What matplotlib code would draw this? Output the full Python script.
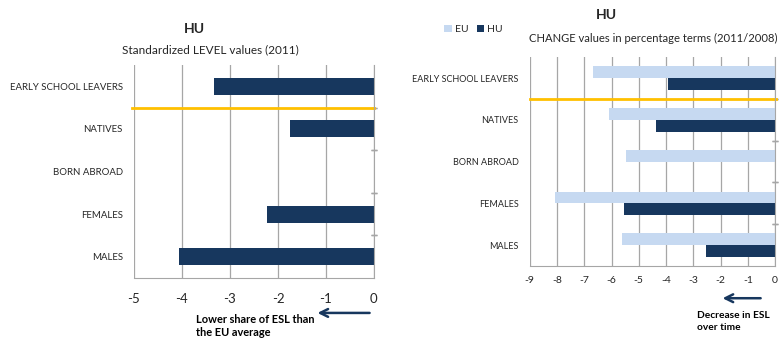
import matplotlib.pyplot as plt
import numpy as np

plt.rcParams['font.family'] = ['Lato', 'DejaVu Sans']

categories = ['EARLY SCHOOL LEAVERS', 'NATIVES', 'BORN ABROAD', 'FEMALES', 'MALES']

# left panel: standardized level values (2011), HU only
level_hu = [-3.34, -1.75, np.nan, -2.23, -4.06]

# right panel: change in percentage terms (2011/2008)
change_eu = [-6.67, -6.09, -5.47, -8.09, -5.61]
change_hu = [-3.92, -4.37, np.nan, -5.55, -2.53]

dark = '#17375E'
light = '#C6D9F1'
yellow = '#FFC000'
grid_col = '#A6A6A6'
txt = '#262626'

fig = plt.figure(figsize=(7.79, 3.42), dpi=100)

y = np.arange(len(categories))


def style_axes(ax, xmin, ticks, lab_size):
    ax.set_xlim(xmin, 0)
    ax.set_ylim(len(categories) - 0.5, -0.5)
    ax.set_xticks(ticks)
    ax.set_xticklabels([str(t) for t in ticks], color=txt)
    ax.set_yticks(y)
    ax.set_yticklabels(categories, fontsize=lab_size, color=txt)
    ax.tick_params(axis='y', length=0, pad=8)
    ax.grid(axis='x', color=grid_col, lw=0.9)
    ax.set_axisbelow(True)
    for s in ['top', 'left']:
        ax.spines[s].set_visible(False)
    ax.spines['bottom'].set_color(grid_col)
    ax.spines['right'].set_color(grid_col)
    # small category ticks on the zero axis
    for b in np.arange(0.5, len(categories) - 0.5, 1.0):
        ax.plot([0, 0], [b, b], marker='_', ms=4, color=grid_col, clip_on=False)


# ---- left chart ----
ax1 = fig.add_axes([0.172, 0.187, 0.308, 0.623])
ax1.barh(y, level_hu, height=0.4, color=dark)
style_axes(ax1, -5, list(range(-5, 1)), 6.9)
ax1.tick_params(axis='x', length=0, pad=11, labelsize=9.5)
ax1.plot([-5.05, 0], [0.5, 0.5], color=yellow, lw=2, clip_on=False)
fig.text(0.25, 0.915, 'HU', fontsize=10, fontweight='bold', ha='center', va='center', color=txt)
fig.text(0.27, 0.853, 'Standardized LEVEL values (2011)', fontsize=8.5, ha='center', va='center', color=txt)
ax1.annotate('', xy=(0.404, 0.085), xytext=(0.478, 0.085), xycoords='figure fraction',
             arrowprops=dict(arrowstyle='->', color=dark, lw=1.8, mutation_scale=14))
fig.text(0.252, 0.047, 'Lower share of ESL than\nthe EU average', fontsize=7.9, fontweight='bold',
         ha='left', va='center', color='black', linespacing=1.3)

# ---- right chart ----
ax2 = fig.add_axes([0.680, 0.222, 0.315, 0.611])
bh = 0.28
ax2.barh(y - bh / 2, change_eu, height=bh, color=light, label='EU')
ax2.barh(y + bh / 2, change_hu, height=bh, color=dark, label='HU')
style_axes(ax2, -9, list(range(-9, 1)), 6.5)
ax2.tick_params(axis='x', length=0, labelsize=7.5, pad=7)
ax2.plot([-9, 0.05], [0.5, 0.5], color=yellow, lw=2, clip_on=False)
fig.text(0.778, 0.955, 'HU', fontsize=10, fontweight='bold', ha='center', va='center', color=txt)
fig.text(0.838, 0.888, 'CHANGE values in percentage terms (2011/2008)', fontsize=8.1,
         ha='center', va='center', color=txt)
ax2.legend(loc='center', bbox_to_anchor=(0.608, 0.913), bbox_transform=fig.transFigure,
           ncol=2, frameon=False, fontsize=7.5, handlelength=0.7, handleheight=0.7,
           handletextpad=0.3, columnspacing=0.8, labelcolor=txt)
ax2.annotate('', xy=(0.924, 0.128), xytext=(0.98, 0.128), xycoords='figure fraction',
             arrowprops=dict(arrowstyle='->', color=dark, lw=1.8, mutation_scale=14))
fig.text(0.895, 0.06, 'Decrease in ESL\nover time', fontsize=7.3, fontweight='bold',
         ha='left', va='center', color='black', linespacing=1.3)

fig.savefig('out.png', dpi=100)
